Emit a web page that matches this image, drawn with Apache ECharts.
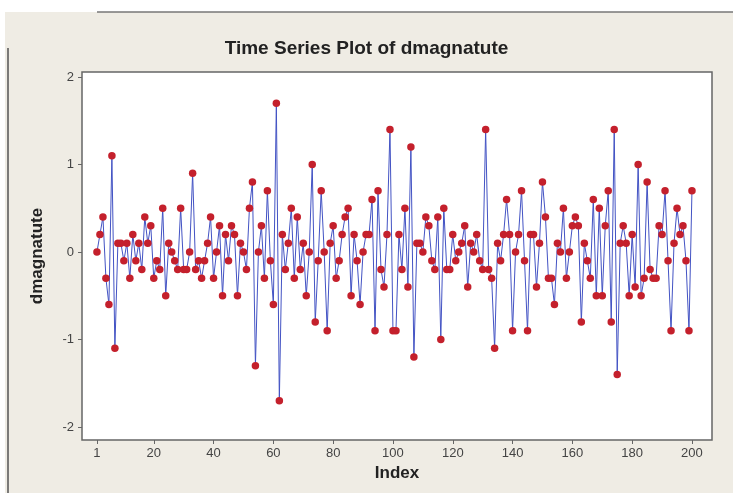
<!DOCTYPE html>
<html>
<head>
<meta charset="utf-8">
<script src="https://cdn.jsdelivr.net/npm/echarts@6/dist/echarts.min.js"></script>
<style>html,body{margin:0;padding:0;background:#efece4;}#c{width:733px;height:493px;}</style>
</head>
<body>
<div id="c"></div>
<script>
const titleText = "Time Series Plot of dmagnatute";
const xName = "Index";
const yName = "dmagnatute";
const xTicks = [1, 20, 40, 60, 80, 100, 120, 140, 160, 180, 200];
const yTicks = [-2, -1, 0, 1, 2];
const values = [
  0.0, 0.2, 0.4, -0.3, -0.6, 1.1, -1.1, 0.1, 0.1, -0.1,
  0.1, -0.3, 0.2, -0.1, 0.1, -0.2, 0.4, 0.1, 0.3, -0.3,
  -0.1, -0.2, 0.5, -0.5, 0.1, 0.0, -0.1, -0.2, 0.5, -0.2,
  -0.2, 0.0, 0.9, -0.2, -0.1, -0.3, -0.1, 0.1, 0.4, -0.3,
  0.0, 0.3, -0.5, 0.2, -0.1, 0.3, 0.2, -0.5, 0.1, 0.0,
  -0.2, 0.5, 0.8, -1.3, 0.0, 0.3, -0.3, 0.7, -0.1, -0.6,
  1.7, -1.7, 0.2, -0.2, 0.1, 0.5, -0.3, 0.4, -0.2, 0.1,
  -0.5, 0.0, 1.0, -0.8, -0.1, 0.7, 0.0, -0.9, 0.1, 0.3,
  -0.3, -0.1, 0.2, 0.4, 0.5, -0.5, 0.2, -0.1, -0.6, 0.0,
  0.2, 0.2, 0.6, -0.9, 0.7, -0.2, -0.4, 0.2, 1.4, -0.9,
  -0.9, 0.2, -0.2, 0.5, -0.4, 1.2, -1.2, 0.1, 0.1, 0.0,
  0.4, 0.3, -0.1, -0.2, 0.4, -1.0, 0.5, -0.2, -0.2, 0.2,
  -0.1, 0.0, 0.1, 0.3, -0.4, 0.1, 0.0, 0.2, -0.1, -0.2,
  1.4, -0.2, -0.3, -1.1, 0.1, -0.1, 0.2, 0.6, 0.2, -0.9,
  0.0, 0.2, 0.7, -0.1, -0.9, 0.2, 0.2, -0.4, 0.1, 0.8,
  0.4, -0.3, -0.3, -0.6, 0.1, 0.0, 0.5, -0.3, 0.0, 0.3,
  0.4, 0.3, -0.8, 0.1, -0.1, -0.3, 0.6, -0.5, 0.5, -0.5,
  0.3, 0.7, -0.8, 1.4, -1.4, 0.1, 0.3, 0.1, -0.5, 0.2,
  -0.4, 1.0, -0.5, -0.3, 0.8, -0.2, -0.3, -0.3, 0.3, 0.2,
  0.7, -0.1, -0.9, 0.1, 0.5, 0.2, 0.3, -0.1, -0.9, 0.7
];
const points = values.map((v, i) => [i + 1, v]);

const chart = echarts.init(document.getElementById('c'), null, {renderer: 'canvas'});
const labelFont = {fontFamily: 'Liberation Sans', fontSize: 13, color: '#444'};
const nameFont = {fontFamily: 'Liberation Sans', fontWeight: 'bold', fontSize: 17, color: '#222'};
chart.setOption({
  animation: false,
  backgroundColor: '#efece4',
  graphic: [
    {type: 'rect', shape: {x: 0, y: 0, width: 733, height: 12}, style: {fill: '#ffffff'}},
    {type: 'line', shape: {x1: 97, y1: 12, x2: 733, y2: 12}, style: {stroke: '#777', lineWidth: 1.5}},
    {type: 'rect', shape: {x: 0, y: 12, width: 5, height: 481}, style: {fill: '#ffffff'}},
    {type: 'line', shape: {x1: 8, y1: 48, x2: 8, y2: 493}, style: {stroke: '#555', lineWidth: 1.5}}
  ],
  title: {
    text: titleText, left: 'center', top: 34,
    textStyle: {fontFamily: 'Liberation Sans', fontWeight: 'bold', fontSize: 19, color: '#222'}
  },
  grid: {
    left: 82, right: 21, top: 72, bottom: 53,
    show: true, backgroundColor: '#ffffff', borderColor: '#666', borderWidth: 1.5
  },
  xAxis: {
    type: 'value', min: -4, max: 206.7,
    name: xName, nameLocation: 'middle', nameGap: 25,
    nameTextStyle: nameFont,
    axisLine: {show: false, onZero: false},
    splitLine: {show: false},
    axisTick: {show: true, length: 4, lineStyle: {color: '#666'}, customValues: xTicks},
    axisLabel: Object.assign({customValues: xTicks, margin: 7}, labelFont)
  },
  yAxis: {
    type: 'value', min: -2.149, max: 2.057,
    name: yName, nameLocation: 'middle', nameGap: 36, nameRotate: 90,
    nameTextStyle: nameFont,
    axisLine: {show: false, onZero: false},
    splitLine: {show: false},
    axisTick: {show: true, length: 4, lineStyle: {color: '#666'}, customValues: yTicks},
    axisLabel: Object.assign({customValues: yTicks, margin: 8}, labelFont)
  },
  series: [{
    type: 'line',
    data: points,
    lineStyle: {color: '#4353c4', width: 1},
    symbol: 'circle', symbolSize: 7.5,
    itemStyle: {color: '#c4202c'},
    showAllSymbol: true
  }]
});
</script>
</body>
</html>
